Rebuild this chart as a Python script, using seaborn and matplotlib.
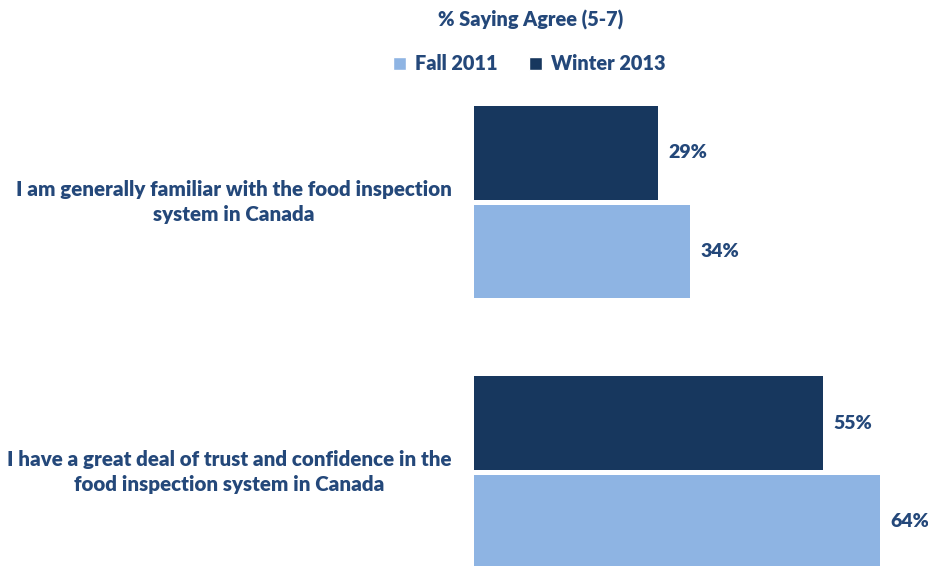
import matplotlib
matplotlib.use("Agg")
import matplotlib.pyplot as plt
import seaborn as sns
import pandas as pd
from matplotlib.patches import Patch

# Survey statements and the share agreeing (5-7 on a 7-point scale)
statements = [
    "I am generally familiar with the food inspection\nsystem in Canada",
    "I have a great deal of trust and confidence in the\nfood inspection system in Canada",
]
waves = ["Winter 2013", "Fall 2011"]
winter_2013 = [29, 55]
fall_2011 = [34, 64]

palette = {"Winter 2013": "#17375E", "Fall 2011": "#8EB4E3"}
text_color = "#24487A"
weight = "heavy"

df = pd.DataFrame({
    "statement": statements * 2,
    "wave": ["Winter 2013"] * 2 + ["Fall 2011"] * 2,
    "pct": winter_2013 + fall_2011,
})

sns.set_theme(style="white")
plt.rcParams["font.family"] = ["Lato", "DejaVu Sans"]

W, H = 929, 566
fig = plt.figure(figsize=(W / 100, H / 100), dpi=100)
ax = fig.add_axes([474 / W, 0, (W - 474) / W, 1])

sns.barplot(data=df, y="statement", x="pct", hue="wave", hue_order=waves,
            order=statements, palette=palette, orient="h", width=0.73,
            gap=0.05, saturation=1, legend=False, ax=ax, edgecolor="none")

ax.set_xlim(0, (W - 474) / 6.35)
ax.set_ylim(1.3457, -0.747)
ax.set_xlabel("")
ax.set_ylabel("")
ax.set_xticks([])
for s in ax.spines.values():
    s.set_visible(False)

# statement labels sit slightly above the middle of each bar pair
ax.set_yticks([i - 0.018 for i in range(len(statements))], statements)
ax.tick_params(axis="y", length=0, pad=16)
for lbl in ax.get_yticklabels():
    lbl.set_multialignment("center")
    lbl.set_linespacing(1.38)
    lbl.set_fontsize(14.8)
    lbl.set_fontweight(weight)
    lbl.set_color(text_color)

for cont in ax.containers:
    ax.bar_label(cont, fmt="%d%%", padding=7.5, fontsize=14,
                 fontweight=weight, color=text_color)

fig.text(531 / W, 1 - 20 / H, "% Saying Agree (5-7)", ha="center", va="center",
         fontsize=14.3, fontweight=weight, color=text_color)

handles = [Patch(facecolor=palette["Fall 2011"], label="Fall 2011"),
           Patch(facecolor=palette["Winter 2013"], label="Winter 2013")]
fig.legend(handles=handles, loc="center", bbox_to_anchor=(529 / W, 1 - 64 / H),
           ncol=2, frameon=False, handlelength=0.65, handleheight=0.65,
           handletextpad=0.45, columnspacing=1.6,
           prop={"size": 14.3, "weight": weight}, labelcolor=text_color)

fig.savefig("out.png", dpi=100)
